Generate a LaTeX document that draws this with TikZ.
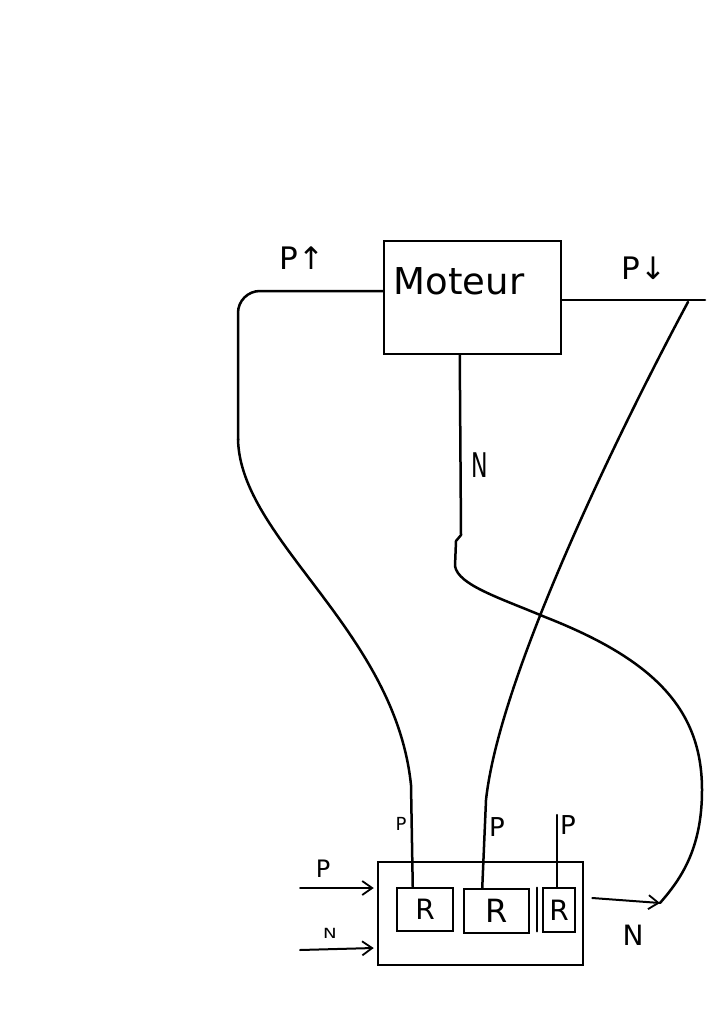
\documentclass[tikz,border=0pt]{standalone}
\usepackage{fontspec}
\setmainfont{DejaVu Sans}
\usetikzlibrary{arrows.meta,calc}
\newcommand{\fs}[1]{\fontsize{#1}{#1}\selectfont}
\begin{document}
\begin{tikzpicture}[x=1pt,y=-1pt,
  wire/.style={line width=2.5pt,line join=round,line cap=round},
  box/.style={draw,line width=2.5pt,rectangle,inner sep=0pt},
  lbl/.style={inner sep=0pt,text=black},
  arr/.style={wire,line width=2pt,-{Straight Barb[length=10pt,width=14pt,line width=1.8pt]}}]
\useasboundingbox (0,0) rectangle (724,1024);
\fill[white] (0,0) rectangle (724,1024);
% motor
\node[box,minimum width=177,minimum height=113] (mot) at (472.5,297.5) {};
\node[lbl] (motlbl) at (459,281) {\fs{37}Moteur};
\node[lbl] (pup) at (302,258) {\fs{31}P↑};
\node[lbl] (pdn) at (644,268) {\fs{31}P↓};
\node[lbl,xscale=0.65] (nlbl) at (480,465) {\fs{34}N};
% control box
\node[box,minimum width=205,minimum height=103] (ctl) at (480.5,913.5) {};
\node[box,minimum width=56,minimum height=43] (R1) at (425,909.5) {\fs{28}R};
\node[box,minimum width=65,minimum height=44] (R2) at (496.5,911) {\fs{32}R};
\node[box,minimum width=32,minimum height=44] (R3) at (559,910) {\fs{28}R};
\node[lbl] (p1) at (401,824) {\fs{18}P};
\node[lbl] (p2) at (497,827) {\fs{26}P};
\node[lbl] (p3) at (568,825) {\fs{26}P};
\node[lbl] (pin) at (323,869) {\fs{24}P};
\node[lbl,xscale=1.3] (nin) at (330,933) {\fs{14}N};
\node[lbl] (nout) at (633,935) {\fs{28}N};
% helper coordinates
\coordinate (yl) at (0,291);
\coordinate (yr) at (0,300);
\coordinate (pend) at (705,300);
\coordinate (pj) at (688,302);
\coordinate (nend) at (660,903);
\coordinate (p3top) at (557,815);
\coordinate (inP) at (300,888);
\coordinate (inN) at (300,950);
% extra left stroke of third R box
\draw[wire] ($(R3.north west)+(-5,1)$) -- ($(R3.south west)+(-5,-2)$);
% P up wire
\draw[wire,rounded corners=22pt] (mot.west|-yl) -- (238,291) -- (238,440);
\draw[wire] (238,439) .. controls (240,540) and (395,630) .. (411,785) -- ($(R1.north west)+(17,0)$);
% P down wire
\draw[wire] (mot.east|-yr) -- (pend);
\draw[wire] (pj) .. controls (630,410) and (500,670) .. (486,800) -- ($(R2.north west)+(19.5,0)$);
% N wire
\draw[wire] ($(mot.south west)+(77,0)$) -- (461,535) -- (456,541) -- (455,566)
  .. controls (458,585) and (500,598) .. (545,617)
  .. controls (655,660) and (702,710) .. (702,790)
  .. controls (702,850) and (680,880) .. (nend);
% third P wire
\draw[wire] (p3top) -- (R3.north-|p3top);
% in/out arrows
\draw[arr] (inP) -- ($(ctl.west)+(-3,-25.5)$);
\draw[arr] (inN) -- ($(ctl.west)+(-3,34.5)$);
\draw[arr] ($(ctl.east)+(8,-15.5)$) -- (nend);
\end{tikzpicture}
\end{document}
